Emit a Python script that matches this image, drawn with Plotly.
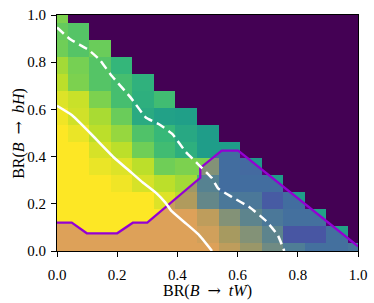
import plotly.graph_objects as go

# grid of branching ratios (15 x 15, step 1/14)
br_tw = [i / 14 for i in range(15)]
br_bh = [j / 14 for j in range(15)]

# heat-map values per row of BR(B->bH); cells with BR sum > 1 are absent
row_00 = [1, 1, 1, 1, 1, 1, 1, 1.0, 0.93, 0.85, 0.75, 0.65, 0.57, 0.57, 0.60]
row_01 = [1, 1, 1, 1, 1, 1, 1, 0.97, 0.88, 0.80, 0.70, 0.42, 0.42, 0.57]
row_02 = [1, 1, 1, 1, 1, 1, 1, 0.93, 0.80, 0.70, 0.62, 0.57, 0.57]
row_03 = [1, 1, 1, 1, 1, 0.95, 0.90, 0.72, 0.62, 0.62, 0.45, 0.55]
row_04 = [1, 1, 1, 0.98, 0.94, 0.90, 0.86, 0.68, 0.55, 0.55, 0.55]
row_05 = [1, 1, 0.97, 0.95, 0.90, 0.78, 0.80, 0.80, 0.55, 0.53]
row_06 = [1, 1, 0.94, 0.90, 0.78, 0.69, 0.63, 0.55, 0.55]
row_07 = [1.0, 0.97, 0.90, 0.84, 0.72, 0.67, 0.60, 0.55]
row_08 = [0.98, 0.93, 0.87, 0.77, 0.61, 0.57, 0.56]
row_09 = [0.95, 0.92, 0.80, 0.70, 0.63, 0.69]
row_10 = [0.90, 0.80, 0.73, 0.70, 0.64]
row_11 = [0.86, 0.79, 0.73, 0.66]
row_12 = [0.78, 0.73, 0.77]
row_13 = [0.76, 0.73]
row_14 = [0.80]
rows = [row_00, row_01, row_02, row_03, row_04, row_05, row_06, row_07,
        row_08, row_09, row_10, row_11, row_12, row_13, row_14]
z = [r + [None] * (15 - len(r)) for r in rows]

# solid white contour
solid_x = [0, 0.05, 0.11, 0.19, 0.24, 0.285, 0.33, 0.36, 0.38, 0.43, 0.47, 0.515]
solid_y = [0.615, 0.575, 0.50, 0.395, 0.34, 0.29, 0.245, 0.205, 0.17, 0.115, 0.07, 0.0]

# dashed white contour
dash_x = [0, 0.044, 0.104, 0.143, 0.178, 0.245, 0.295, 0.339, 0.383, 0.427, 0.47,
          0.514, 0.536, 0.58, 0.64, 0.695, 0.734, 0.755]
dash_y = [0.947, 0.897, 0.853, 0.809, 0.748, 0.65, 0.566, 0.537, 0.496, 0.421, 0.366,
          0.31, 0.264, 0.23, 0.185, 0.127, 0.066, 0.0]

# purple exclusion boundary
excl_x = [0, 0.049, 0.099, 0.2, 0.252, 0.3, 0.476, 0.476, 0.547, 0.602, 1.0]
excl_y = [0.12, 0.12, 0.075, 0.075, 0.12, 0.12, 0.31, 0.352, 0.425, 0.425, 0.02]

tick_vals = [0.0, 0.2, 0.4, 0.6, 0.8, 1.0]
tick_text = ["0.0", "0.2", "0.4", "0.6", "0.8", "1.0"]

x_title = "BR(<i>B</i><span style='font-family:DejaVu Serif'>\u2002\u2192\u2002</span><i>tW</i>)"
y_title = "BR(<i>B</i><span style='font-family:DejaVu Serif'>\u2002\u2192\u2002</span><i>bH</i>)"

SERIF = "Liberation Serif, DejaVu Serif, serif"

fig = go.Figure()
fig.add_trace(go.Heatmap(x=br_tw, y=br_bh, z=z, colorscale="Viridis",
                         zmin=0, zmax=1, showscale=False, hoverongaps=False))
fig.add_trace(go.Scatter(x=excl_x, y=excl_y, mode="lines", fill="tozeroy",
                         fillcolor="rgba(148,0,211,0.3)",
                         line=dict(color="darkviolet", width=2.3), showlegend=False))
fig.add_trace(go.Scatter(x=solid_x, y=solid_y, mode="lines",
                         line=dict(color="white", width=2.5, shape="spline", smoothing=0.4),
                         showlegend=False))
fig.add_trace(go.Scatter(x=dash_x, y=dash_y, mode="lines",
                         line=dict(color="white", width=2.5, dash="9px,5px", shape="spline",
                                   smoothing=0.4),
                         showlegend=False))

axis_common = dict(range=[0, 1], tickvals=tick_vals, ticktext=tick_text, ticks="outside",
                   ticklen=5, tickwidth=1, tickcolor="black", showline=True, linecolor="black",
                   linewidth=1, mirror=True, showgrid=False, zeroline=False,
                   tickfont=dict(family=SERIF, size=15, color="black"))
fig.update_xaxes(**axis_common, ticklabelstandoff=5)
fig.update_yaxes(**axis_common, ticklabelstandoff=2)

fig.add_annotation(text=x_title, xref="paper", yref="paper", x=0.5, y=-0.168,
                   xanchor="center", yanchor="middle", showarrow=False,
                   font=dict(family=SERIF, size=16, color="black"))
fig.add_annotation(text=y_title, xref="paper", yref="paper", x=-0.13, y=0.5,
                   xanchor="center", yanchor="middle", showarrow=False, textangle=-90,
                   font=dict(family=SERIF, size=16, color="black"))

fig.update_layout(width=374, height=303, margin=dict(l=57, r=13, t=7, b=52),
                  plot_bgcolor="#440154", paper_bgcolor="white")
fig.write_html("out.html", config={"displayModeBar": False},
               post_script="document.body.style.margin='0';"
                           "document.body.style.overflow='hidden';")
